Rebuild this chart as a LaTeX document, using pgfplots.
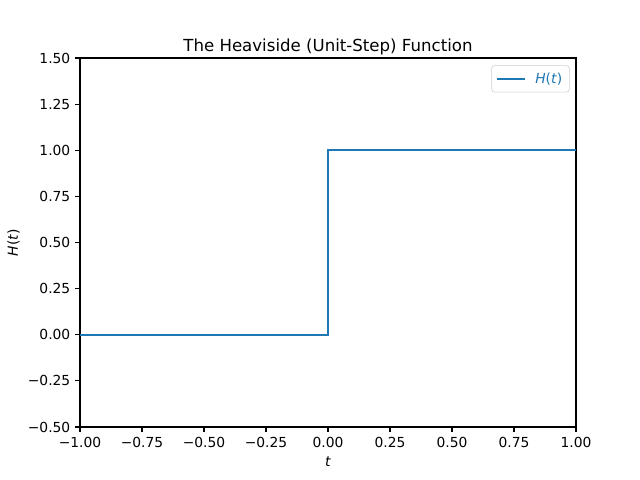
\documentclass[border=0pt]{standalone}
\usepackage{pgfplots}
\pgfplotsset{compat=1.18}
\usepackage{fontspec}
\setmainfont{DejaVu Sans}
\definecolor{c0}{HTML}{1F77B4}
\begin{document}
\begin{tikzpicture}
\begin{axis}[
  scale only axis,
  width=4.96in, height=3.69in,
  xmin=-1, xmax=1, ymin=-0.5, ymax=1.5,
  xtick={-1,-0.75,-0.5,-0.25,0,0.25,0.5,0.75,1},
  xticklabels={−1.00,−0.75,−0.50,−0.25,0.00,0.25,0.50,0.75,1.00},
  ytick={-0.5,-0.25,0,0.25,0.5,0.75,1,1.25,1.5},
  yticklabels={−0.50,−0.25,0.00,0.25,0.50,0.75,1.00,1.25,1.50},
  tick align=outside, tick pos=left,
  major tick length=3.5pt,
  every tick/.style={black, line width=0.8pt},
  axis line style={line width=0.8pt},
  tick label style={font=\fontsize{10}{12}\selectfont},
  xlabel={\textit{t}}, ylabel={\textit{H}(\textit{t})},
  label style={font=\fontsize{10}{12}\selectfont},
  ylabel style={xshift=0pt, yshift=-1pt},
  title={The Heaviside (Unit-Step) Function},
  title style={font=\fontsize{12}{14}\selectfont, yshift=-7pt},
  legend image code/.code={\draw[#1] (0pt,0pt) -- (20pt,0pt);},
  legend style={draw=black!20, rounded corners=2pt, font=\fontsize{10}{12}\selectfont, text=c0, at={(0.987,0.98)}, anchor=north east, inner sep=3pt, column sep=5pt},
  legend cell align=left,
]
\addplot[c0, line width=1.5pt] coordinates {(-1,0) (0,0) (0,1) (1,1)};
\addlegendentry{\textit{H}(\textit{t})}
\path (rel axis cs:0,0) coordinate (sw) (rel axis cs:1,1) coordinate (ne);
\end{axis}
\path ([shift={(-0.8in,-0.53in)}]sw) rectangle ([shift={(0.64in,0.58in)}]ne);
\end{tikzpicture}
\end{document}
